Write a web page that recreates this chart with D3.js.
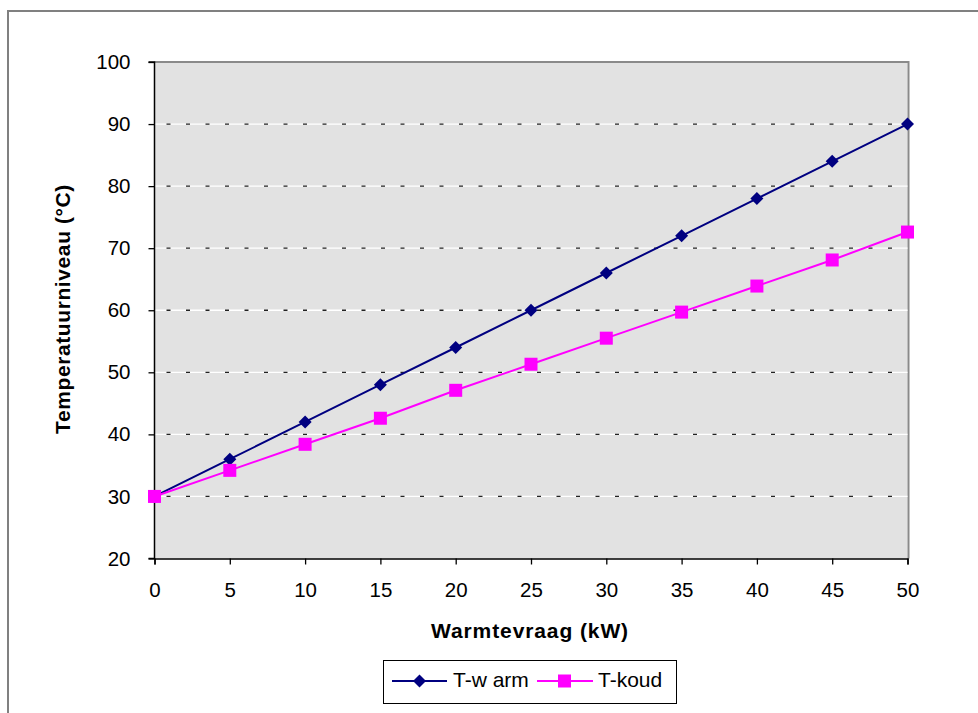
<!DOCTYPE html>
<html><head><meta charset="utf-8">
<script src="https://cdn.jsdelivr.net/npm/d3@7"></script>
<style>body{margin:0;background:#fff;}svg{display:block;font-family:"Liberation Sans",Arial,sans-serif;}</style>
</head><body>
<svg id="c" width="978" height="713"></svg>
<script>
const xValues = [0,5,10,15,20,25,30,35,40,45,50];
const tWarm = [30,36,42,48,54,60,66,72,78,84,90];
const tKoud = [30,34.2,38.4,42.6,47.1,51.3,55.5,59.7,63.9,68.1,72.6];
const yTicks = [20,30,40,50,60,70,80,90,100];
const seriesNames = ["T-w arm","T-koud"];

const svg = d3.select("#c");
// outer chart border
svg.append("path").attr("d","M8,713 L8,11 L978,11").attr("fill","none").attr("stroke","#808080").attr("stroke-width",2);

const L=154.5, R=907.5, T=62, B=558.5;
const x = d3.scaleLinear().domain([0,50]).range([L,R]);
const y = d3.scaleLinear().domain([20,100]).range([B,T]);

svg.append("rect").attr("x",L).attr("y",T).attr("width",R-L).attr("height",B-T).attr("fill","#e2e2e2");
// plot top/right border
svg.append("path").attr("d",`M${L},${T} L${R+1},${T} L${R+1},${B}`).attr("fill","none").attr("stroke","#8a8a8a").attr("stroke-width",2);

// gridlines
const g = svg.append("g");
yTicks.filter(v=>v>20 && v<100).forEach(v=>{
  g.append("line").attr("x1",L).attr("x2",R).attr("y1",y(v)).attr("y2",y(v)).attr("stroke","#fff").attr("stroke-width",1.3);
  g.append("line").attr("x1",L+12).attr("x2",R).attr("y1",y(v)).attr("y2",y(v)).attr("stroke","#222").attr("stroke-width",1.3).attr("stroke-dasharray","4 15.5");
});

// axes
const yAxis = d3.axisLeft(y).tickValues(yTicks).tickSize(6).tickPadding(18);
const xAxis = d3.axisBottom(x).tickValues(xValues).tickSize(6).tickPadding(18);
const ya = svg.append("g").attr("transform",`translate(${L},0)`).call(yAxis);
const xa = svg.append("g").attr("transform",`translate(0,${B})`).call(xAxis);
[ya,xa].forEach(a=>{
  a.select(".domain").attr("stroke","#000").attr("stroke-width",1.5);
  a.selectAll(".tick line").attr("stroke","#000").attr("stroke-width",1.3);
  a.selectAll("text").attr("font-size",20.5).attr("fill","#000").attr("font-family","Liberation Sans, Arial, sans-serif");
});
ya.select(".domain").attr("d",`M-6,${T}H0V${B}H-6`);

// axis titles
svg.append("text").attr("x",530).attr("y",638).attr("text-anchor","middle").attr("font-size",21).attr("font-weight","bold").attr("letter-spacing",0.9).text("Warmtevraag (kW)");
svg.append("text").attr("transform","translate(70,309) rotate(-90)").attr("text-anchor","middle").attr("font-size",21).attr("font-weight","bold").attr("letter-spacing",0.6).text("Temperatuurniveau (°C)");

const line = d3.line().x((d,i)=>x(xValues[i])).y(d=>y(d));
svg.append("path").datum(tWarm).attr("d",line).attr("fill","none").attr("stroke","#000080").attr("stroke-width",2);
svg.append("path").datum(tKoud).attr("d",line).attr("fill","none").attr("stroke","#ff00ff").attr("stroke-width",2);

const diamond = s => `M0,${-s}L${s},0L0,${s}L${-s},0Z`;
svg.selectAll(".dw").data(tWarm).enter().append("path").attr("d",diamond(6.5))
  .attr("transform",(d,i)=>`translate(${x(xValues[i])},${y(d)})`).attr("fill","#000080");
svg.selectAll(".sk").data(tKoud).enter().append("rect").attr("width",13).attr("height",13)
  .attr("x",(d,i)=>x(xValues[i])-6.5).attr("y",d=>y(d)-6.5).attr("fill","#ff00ff");

// legend
const lg = svg.append("g");
lg.append("rect").attr("x",383.5).attr("y",660.5).attr("width",293).attr("height",43).attr("fill","#fff").attr("stroke","#000").attr("stroke-width",1);
lg.append("line").attr("x1",392).attr("x2",447).attr("y1",681).attr("y2",681).attr("stroke","#000080").attr("stroke-width",2);
lg.append("path").attr("d",diamond(6.5)).attr("transform","translate(419.5,681)").attr("fill","#000080");
lg.append("text").attr("x",453).attr("y",687).attr("font-size",21).text(seriesNames[0]);
lg.append("line").attr("x1",537).attr("x2",593).attr("y1",681).attr("y2",681).attr("stroke","#ff00ff").attr("stroke-width",2);
lg.append("rect").attr("x",558).attr("y",674.5).attr("width",13).attr("height",13).attr("fill","#ff00ff");
lg.append("text").attr("x",598).attr("y",687).attr("font-size",21).text(seriesNames[1]);
</script>
</body></html>
